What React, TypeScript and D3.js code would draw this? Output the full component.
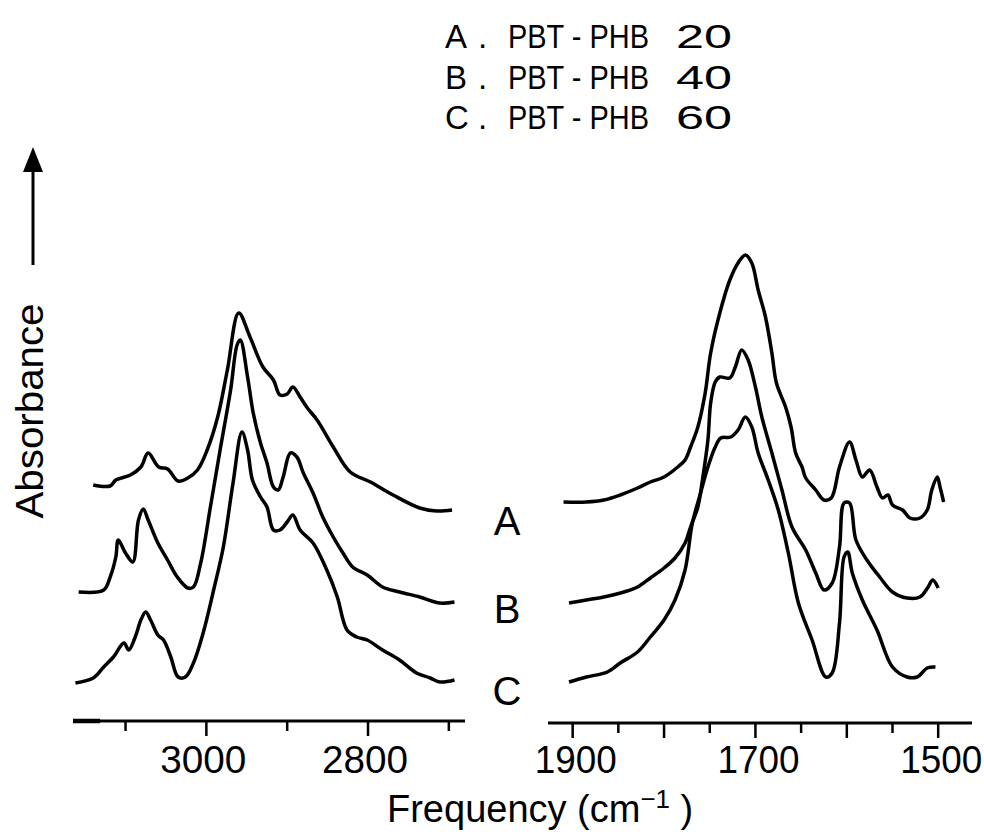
import React from 'react';
import * as d3 from 'd3';

// C-H stretching region, [wavenumber, absorbance (offset)]
const chA = [[3140,2.35],[3119,2.34],[3112,2.40],[3094,2.45],[3081,2.53],[3072,2.67],[3059,2.53],[3048,2.51],[3035,2.39],[3023,2.42],[3011,2.50],[2999,2.70],[2986,3.03],[2974,3.50],[2960,4.07],[2946,3.83],[2930,3.53],[2917,3.40],[2909,3.25],[2900,3.26],[2893,3.33],[2884,3.23],[2875,3.12],[2863,3.00],[2843,2.73],[2822,2.48],[2797,2.38],[2769,2.25],[2736,2.12],[2715,2.09],[2696,2.10]];
const chB = [[3158,1.28],[3127,1.30],[3119,1.43],[3112,1.63],[3109,1.80],[3100,1.67],[3091,1.58],[3084,2.00],[3078,2.11],[3072,2.00],[3060,1.77],[3048,1.60],[3036,1.43],[3023,1.32],[3016,1.33],[3007,1.57],[2995,2.13],[2983,2.70],[2970,3.30],[2962,3.75],[2958,3.80],[2949,3.43],[2942,3.07],[2933,2.77],[2925,2.57],[2917,2.33],[2911,2.30],[2905,2.43],[2896,2.67],[2888,2.63],[2880,2.47],[2868,2.27],[2856,2.03],[2843,1.83],[2831,1.67],[2819,1.53],[2801,1.45],[2782,1.33],[2761,1.28],[2736,1.23],[2711,1.17],[2693,1.18]];
const chC = [[3162,0.37],[3140,0.42],[3127,0.53],[3115,0.63],[3102,0.77],[3096,0.70],[3088,0.83],[3081,1.00],[3075,1.08],[3069,1.00],[3060,0.85],[3053,0.80],[3044,0.63],[3035,0.43],[3026,0.43],[3016,0.57],[3004,0.87],[2991,1.30],[2979,1.73],[2967,2.37],[2956,2.88],[2949,2.70],[2943,2.40],[2933,2.23],[2925,2.13],[2917,1.90],[2909,1.90],[2900,1.98],[2893,2.05],[2884,1.90],[2868,1.77],[2851,1.50],[2838,1.23],[2826,0.90],[2814,0.83],[2801,0.80],[2782,0.70],[2761,0.60],[2740,0.47],[2723,0.42],[2711,0.38],[2693,0.40]];

// carbonyl / ring region
const coA = [[1910,2.18],[1885,2.18],[1866,2.20],[1848,2.25],[1829,2.32],[1815,2.38],[1800,2.43],[1785,2.53],[1777,2.60],[1771,2.73],[1763,2.93],[1755,3.27],[1749,3.67],[1739,4.07],[1728,4.40],[1719,4.57],[1711,4.65],[1704,4.57],[1697,4.30],[1689,4.03],[1682,3.67],[1677,3.37],[1667,3.13],[1661,2.93],[1656,2.67],[1649,2.53],[1645,2.42],[1634,2.30],[1625,2.20],[1617,2.22],[1608,2.53],[1597,2.78],[1590,2.60],[1583,2.43],[1575,2.50],[1567,2.33],[1561,2.22],[1555,2.25],[1550,2.15],[1539,2.10],[1531,2.02],[1520,2.02],[1512,2.10],[1507,2.30],[1501,2.43],[1498,2.33],[1494,2.18]];
const coB = [[1904,1.17],[1885,1.20],[1866,1.23],[1844,1.28],[1829,1.33],[1815,1.42],[1800,1.52],[1788,1.62],[1777,1.77],[1771,1.93],[1763,2.13],[1758,2.40],[1752,2.80],[1749,3.17],[1744,3.38],[1739,3.43],[1728,3.42],[1722,3.53],[1715,3.70],[1708,3.60],[1700,3.33],[1693,3.03],[1682,2.67],[1671,2.30],[1660,1.93],[1645,1.70],[1634,1.47],[1625,1.30],[1616,1.37],[1608,1.73],[1603,2.17],[1597,2.17],[1590,1.80],[1578,1.60],[1564,1.43],[1550,1.28],[1534,1.22],[1520,1.23],[1511,1.33],[1506,1.40],[1500,1.32]];
const coC = [[1904,0.38],[1885,0.43],[1862,0.48],[1848,0.57],[1829,0.68],[1815,0.83],[1800,1.00],[1788,1.20],[1777,1.50],[1769,1.97],[1760,2.27],[1752,2.53],[1744,2.73],[1738,2.82],[1727,2.83],[1719,2.90],[1711,3.03],[1704,2.93],[1697,2.67],[1686,2.40],[1675,2.10],[1664,1.67],[1653,1.17],[1638,0.80],[1623,0.43],[1616,0.47],[1608,0.97],[1603,1.63],[1599,1.68],[1594,1.47],[1583,1.20],[1567,0.90],[1550,0.53],[1534,0.43],[1523,0.43],[1512,0.52],[1503,0.53]];

const curveLabels = ['A', 'B', 'C'];
const curveLabelLevels = [1.85, 0.97, 0.15];
const legendNames = ['PBT - PHB', 'PBT - PHB', 'PBT - PHB'];
const legendContents = ['20', '40', '60'];

const leftTicks = [3100, 3000, 2900, 2800, 2700];
const leftLabels = [3000, 2800];
const rightTicks = [1900, 1850, 1800, 1750, 1700, 1650, 1600, 1550, 1500];
const rightLabels = [1900, 1700, 1500];

const W = 984;
const H = 840;
const FONT = '"Liberation Sans", Arial, sans-serif';

export default function App() {
  const xLeft = d3.scaleLinear().domain([3165, 2680]).range([73, 465]);
  const xRight = d3.scaleLinear().domain([1927, 1463]).range([548, 972]);
  const y = d3.scaleLinear().domain([0, 4.5]).range([720, 270]);

  const lineL = d3.line<number[]>().x(d => xLeft(d[0])).y(d => y(d[1])).curve(d3.curveCatmullRom.alpha(0.5));
  const lineR = d3.line<number[]>().x(d => xRight(d[0])).y(d => y(d[1])).curve(d3.curveCatmullRom.alpha(0.5));

  const axisYL = 721;
  const axisYR = 723;

  return (
    <svg width={W} height={H} style={{ position: 'absolute', left: 0, top: 0, display: 'block', background: '#fff' }}
      fontFamily={FONT}>
      {/* spectra */}
      {[chA, chB, chC].map((s, i) => (
        <path key={'l' + i} d={lineL(s) || ''} fill="none" stroke="#000" strokeWidth={3.5} strokeLinejoin="round" />
      ))}
      {[coA, coB, coC].map((s, i) => (
        <path key={'r' + i} d={lineR(s) || ''} fill="none" stroke="#000" strokeWidth={3.5} strokeLinejoin="round" />
      ))}

      {/* curve labels */}
      {curveLabels.map((c, i) => (
        <text key={c} x={507} y={y(curveLabelLevels[i])} fontSize={40} textAnchor="middle">{c}</text>
      ))}

      {/* left axis */}
      <line x1={xLeft.range()[0]} x2={xLeft.range()[1]} y1={axisYL} y2={axisYL} stroke="#000" strokeWidth={3} />
      <line x1={73} x2={100} y1={axisYL} y2={axisYL} stroke="#000" strokeWidth={4.5} />
      {leftTicks.map(t => (
        <line key={t} x1={xLeft(t)} x2={xLeft(t)} y1={axisYL} y2={axisYL + (leftLabels.includes(t) ? 15 : 10)} stroke="#000" strokeWidth={2.5} />
      ))}
      {leftLabels.map(t => (
        <text key={t} x={xLeft(t) - 3} y={773} fontSize={38} textAnchor="middle" textLength={86} lengthAdjust="spacingAndGlyphs">{t}</text>
      ))}

      {/* right axis */}
      <line x1={xRight.range()[0]} x2={xRight.range()[1]} y1={axisYR} y2={axisYR} stroke="#000" strokeWidth={3} />
      {rightTicks.map(t => (
        <line key={t} x1={xRight(t)} x2={xRight(t)} y1={axisYR} y2={axisYR + (t % 100 === 0 ? 15 : 10)} stroke="#000" strokeWidth={2.5} />
      ))}
      {rightLabels.map(t => (
        <text key={t} x={xRight(t) + 3} y={773} fontSize={38} textAnchor="middle" textLength={82} lengthAdjust="spacingAndGlyphs">{t}</text>
      ))}

      {/* x title */}
      <text x={387} y={822} fontSize={38}>
        Frequency (cm<tspan dy={-14} fontSize={26}>{'\u2212'}1</tspan><tspan dy={14}> )</tspan>
      </text>

      {/* y title with arrow */}
      <text transform="translate(43,411) rotate(-90)" fontSize={38} textAnchor="middle" textLength={215} lengthAdjust="spacingAndGlyphs">Absorbance</text>
      <line x1={33} x2={33} y1={265} y2={168} stroke="#000" strokeWidth={3} />
      <path d="M33,147 L23,172 L43,172 Z" fill="#000" />

      {/* legend */}
      {curveLabels.map((c, i) => {
        const by = 48 + i * 40.5;
        return (
          <g key={'lg' + c} fontSize={33}>
            <text x={445} y={by}>{c}</text>
            <text x={478} y={by}>.</text>
            <text x={508} y={by} textLength={141} lengthAdjust="spacingAndGlyphs">{legendNames[i]}</text>
            <text x={676} y={by} textLength={56} lengthAdjust="spacingAndGlyphs">{legendContents[i]}</text>
          </g>
        );
      })}
    </svg>
  );
}
